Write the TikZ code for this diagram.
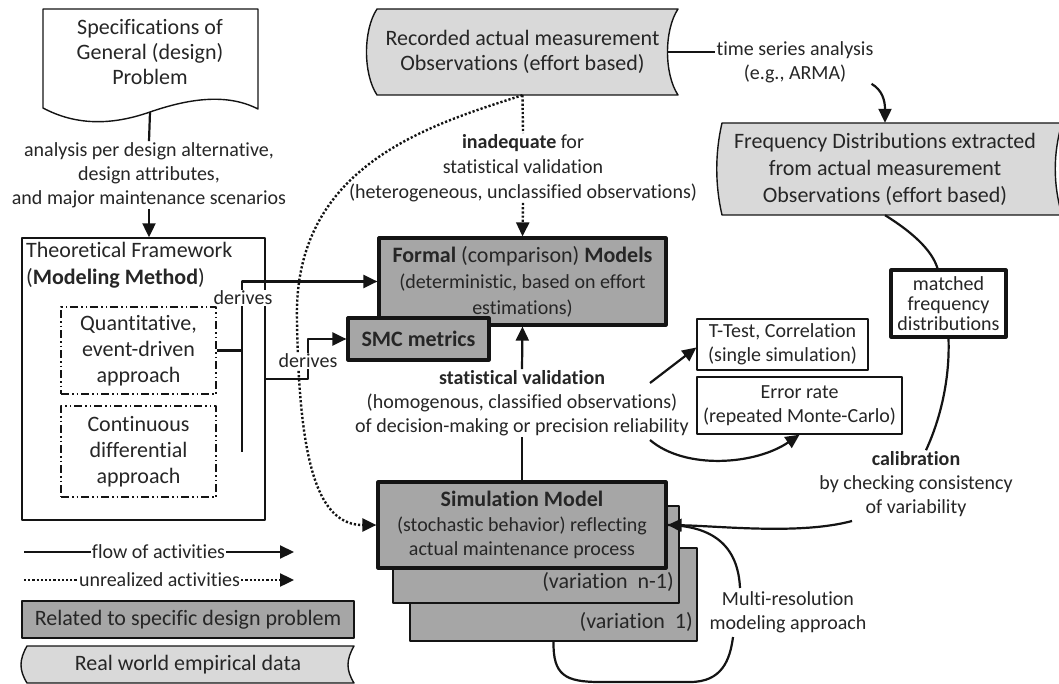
\documentclass[tikz,border=0pt]{standalone}
\usepackage{fontspec}
\setmainfont{Carlito}[Ligatures=NoCommon]
\usetikzlibrary{arrows.meta}

\definecolor{lightfill}{HTML}{D9D9D9}
\definecolor{darkfill}{HTML}{A6A6A6}
\definecolor{ink}{HTML}{262626}
\definecolor{linecol}{HTML}{141414}

\begin{document}
\begin{tikzpicture}[x=1pt, y=-1pt, line join=round,
  every node/.style={text=ink, inner sep=1pt, align=center},
  fnt/.style 2 args={font=\fontsize{#1}{#2}\selectfont},
  thinbox/.style={draw=linecol, line width=1.4pt},
  heavybox/.style={draw=linecol, line width=3.2pt, fill=darkfill},
  layerbox/.style={draw=linecol, line width=1.5pt, fill=darkfill},
  dashdotbox/.style={draw=linecol, line width=1.3pt,
    dash pattern=on 8pt off 3pt on 1.5pt off 3pt on 1.5pt off 3pt},
  flow/.style={draw=linecol, line width=2.2pt},
  unreal/.style={draw=linecol, line width=2.4pt, dash pattern=on 2.2pt off 2pt},
  tip/.style={-{Triangle[length=14pt,width=13pt]}},
  gap/.style={fill=white, inner sep=1pt}
]
\fill[white] (0,0) rectangle (1059,684);
\useasboundingbox (0,0) rectangle (1059,684);

% ---- document: general problem specification
\filldraw[fill=white, draw=linecol, line width=1.4pt]
  (43,9) -- (258,9) -- (258,109)
  .. controls (225,92) and (185,100) .. (150,112)
  .. controls (110,126) and (75,125) .. (43,108) -- cycle;
\node[fnt={22}{25}] (spec) at (150,52) {Specifications of\\General (design)\\Problem};
\coordinate (specfoot) at (150,112);

\node[fnt={20}{24}] (an) at (149,175)
  {analysis per design alternative,\\design attributes,\\and major maintenance scenarios};

% ---- theoretical framework
\node[thinbox, minimum width=243pt, minimum height=282pt] (tf) at (143.5,379) {};
\node[fnt={22}{27}, align=left, anchor=north west] (tftitle) at (25,241)
  {Theoretical Framework\\(\textbf{Modeling Method})};
\node[dashdotbox, fnt={22}{26}, minimum width=155pt, minimum height=87pt] (quant)
  at (138.5,350.5) {Quantitative,\\event-driven\\approach};
\node[dashdotbox, fnt={22}{26}, minimum width=155pt, minimum height=91pt] (cont)
  at (138.5,451.5) {Continuous\\differential\\approach};

\draw[flow] (specfoot) -- (an.north);
\draw[flow, tip] (an.south) -- (an.south |- tf.north);

% ---- recorded observations (stored data)
\filldraw[fill=lightfill, draw=linecol, line width=1.4pt]
  (377,9) -- (678,9) .. controls (664,30) and (664,74) .. (678,95)
  -- (377,95) .. controls (363,74) and (363,30) .. cycle;
\node[fnt={22}{25}, minimum width=301pt, minimum height=86pt] (rec) at (522.5,52)
  {Recorded actual measurement\\Observations (effort based)};

\node[fnt={20}{24}] (ts) at (795,62) {time series analysis\\(e.g., ARMA)};

% ---- frequency distributions (stored data)
\filldraw[fill=lightfill, draw=linecol, line width=1.4pt]
  (722,123) -- (1062,123) .. controls (1053,153) and (1053,185) .. (1062,215)
  -- (722,215) .. controls (715,185) and (715,153) .. cycle;
\node[fnt={22}{27}, minimum width=326pt, minimum height=92pt] (freq) at (885,169)
  {Frequency Distributions extracted\\from actual measurement\\Observations (effort based)};

% ---- models
\node[layerbox, minimum width=287pt, minimum height=93pt] (var1) at (553.5,594.5) {};
\node[layerbox, minimum width=286pt, minimum height=97pt] (varn) at (536,554.5) {};
\node[fnt={22}{25}, anchor=east] (varnlab) at (675,582) {(variation\ \ n-1)};
\node[fnt={22}{25}, anchor=east] (var1lab) at (694,622) {(variation\ \ 1)};
\node[heavybox, fnt={20}{24.5}, minimum width=288pt, minimum height=86pt] (sim) at (522,525)
  {{\fontsize{22}{24.5}\selectfont\textbf{Simulation Model}}\\(stochastic behavior) reflecting\\actual maintenance process};

\node[heavybox, fnt={20}{26}, minimum width=287pt, minimum height=87pt] (formal) at (522.5,281.5)
  {{\fontsize{22}{26}\selectfont\textbf{Formal} (comparison) \textbf{Models}}\\(deterministic, based on effort\\estimations)};
\node[heavybox, fnt={22}{25}, minimum width=141pt, minimum height=42pt] (smc) at (418.5,339)
  {\textbf{SMC metrics}};

\node[fnt={20}{25}] (inad) at (523,168)
  {\textbf{inadequate} for\\statistical validation\\(heterogeneous, unclassified observations)};
\node[fnt={20}{24}] (sv) at (522,403)
  {\textbf{statistical validation}\\(homogenous, classified observations)\\of decision-making or precision reliability};

\node[thinbox, fnt={20}{24}, minimum width=171pt, minimum height=51pt] (ttest) at (782.5,344.5)
  {T-Test, Correlation\\(single simulation)};
\node[thinbox, fnt={20}{24}, minimum width=205pt, minimum height=57pt] (error) at (799.5,405.5)
  {Error rate\\(repeated Monte-Carlo)};
\node[draw=linecol, line width=3.2pt, fill=white, fnt={20}{20}, minimum width=115pt, minimum height=67pt]
  (matched) at (948.5,303.5) {matched\\frequency\\distributions};

\node[fnt={20}{24}] (cal) at (916,484) {\textbf{calibration}\\by checking consistency\\of variability};
\node[fnt={20}{24}] (mr) at (788,612) {Multi-resolution\\modeling approach};

\coordinate (dv) at (242,281.5);
\coordinate (svr1) at (650,383);
\coordinate (svr2) at (650,440);
\coordinate (calfoot) at (852,521);
\coordinate (mrtop) at (740,588);
\coordinate (mrbot) at (733,637);

% ---- connectors
\draw[flow] (quant.east) -- (quant.east -| dv);
\draw[flow, tip] (cont.east -| dv) -- (dv) -- (formal.west);
\draw[flow, tip] (tf.east) -- ++(42,0) |- (smc.west);

\draw[flow] ([xshift=-6pt]rec.east) -- (ts.west |- rec.east);
\draw[flow, tip] ([xshift=-3pt]ts.south east) .. controls (882,90) and (885,100) .. (freq.north);

\draw[unreal] (rec.south) -- (inad.north);
\draw[unreal, tip] (inad.south) -- (formal.north);
\draw[unreal, tip] (rec.south) .. controls (430,125) and (293,165) .. (297,320)
  .. controls (299,470) and (320,525) .. (sim.west);

\draw[flow] (sim.north) -- (sv.south);
\draw[flow, tip] (sv.north) -- (formal.south);
\draw[flow, tip] (svr1) -- ([yshift=-3pt]ttest.west);
\draw[flow, tip] (svr2) .. controls (685,470) and (755,465) .. (error.south);

\draw[flow] (freq.south) .. controls (912,232) and (932,250) .. ([xshift=-11pt]matched.north);
\draw[flow] (matched.south) .. controls (950,380) and (940,420) .. ([xshift=10pt]cal.north);
\draw[flow] (mrtop) .. controls (738,545) and (712,526) .. (sim.east);
\draw[flow, tip] (calfoot) .. controls (800,535) and (720,526) .. (sim.east);
\draw[flow] (var1.south) .. controls (553,675) and (565,682) .. (600,682)
  -- (690,682) .. controls (722,682) and (730,660) .. (mrbot);

% labels that interrupt the lines beneath them
\node[fnt={20}{24}, gap] (der1) at (243,298) {derives};
\node[fnt={20}{24}, gap] (der2) at (308,361) {derives};

% ---- legend
\node[fnt={20}{24}] (leg1) at (158.5,552) {flow of activities};
\coordinate (l1a) at (24,552);
\coordinate (l1b) at (294,552);
\draw[flow] (l1a) -- (leg1.west);
\draw[flow, tip] (leg1.east) -- (l1b);

\node[fnt={20}{24}] (leg2) at (159.5,580) {unrealized activities};
\coordinate (l2a) at (24,580);
\coordinate (l2b) at (294,580);
\draw[unreal] (l2a) -- (leg2.west);
\draw[unreal, tip] (leg2.east) -- (l2b);

\node[thinbox, fill=darkfill, fnt={22}{25}, minimum width=332pt, minimum height=37pt] (relbox)
  at (188,619.5) {Related to specific design problem};

\filldraw[fill=lightfill, draw=linecol, line width=1.4pt]
  (27,646) -- (354,646) .. controls (346,660) and (346,670) .. (354,683)
  -- (27,683) .. controls (19,670) and (19,660) .. cycle;
\node[fnt={22}{25}] (realbox) at (188,665) {Real world empirical data};
\end{tikzpicture}
\end{document}
